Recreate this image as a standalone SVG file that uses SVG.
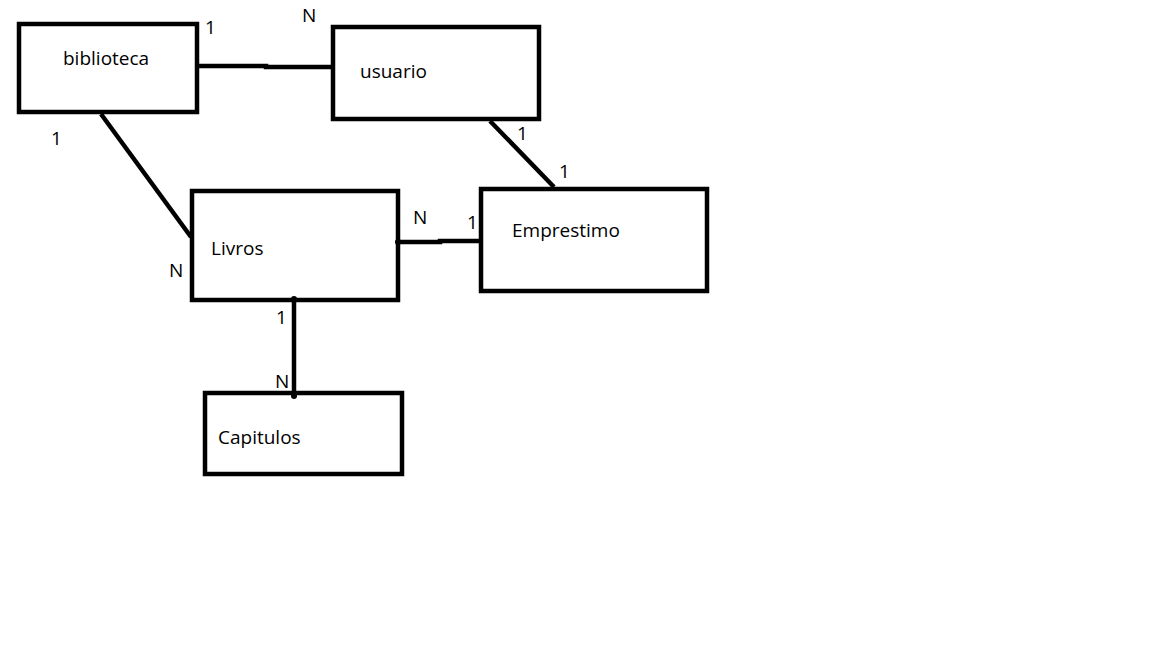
<svg xmlns="http://www.w3.org/2000/svg" width="1152" height="648" viewBox="0 0 1152 648">
<style>
.box{fill:#fff;stroke:#000;stroke-width:4.5}
.ln{fill:none;stroke:#000;stroke-width:4.5}
text{font-family:"Open Sans","Noto Sans",sans-serif;font-size:19px;fill:#000}
</style>
<rect width="1152" height="648" fill="#fff"/>
<g id="biblioteca"><rect class="box" x="19" y="24" width="178" height="88"/><text x="63" y="65">biblioteca</text></g>
<g id="usuario"><rect class="box" x="333" y="27" width="206" height="92"/><text x="360" y="78">usuario</text></g>
<g id="livros"><rect class="box" x="192" y="191" width="206" height="109"/><text x="211" y="255">Livros</text></g>
<g id="emprestimo"><rect class="box" x="481" y="189" width="226" height="102"/><text x="512" y="237">Emprestimo</text></g>
<g id="capitulos"><rect class="box" x="205" y="393" width="197" height="81"/><text x="218" y="444">Capitulos</text></g>
<g id="connectors">
<polyline class="ln" points="199,66 266,66 266,67 331,67"/>
<line class="ln" x1="101" y1="114" x2="191" y2="237"/>
<line class="ln" x1="490" y1="121" x2="554" y2="187"/>
<polyline class="ln" points="398,242 440,242 440,241 479,241"/>
<line class="ln" x1="294" y1="299" x2="294" y2="396"/>
<circle cx="398" cy="242" r="3"/>
<circle cx="294" cy="299" r="3"/>
<circle cx="294" cy="396" r="3"/>
</g>
<g id="labels">
<text x="205" y="34">1</text>
<text x="302" y="22">N</text>
<text x="51" y="145">1</text>
<text x="169" y="277">N</text>
<text x="517" y="140">1</text>
<text x="559" y="178">1</text>
<text x="413" y="224">N</text>
<text x="467" y="229">1</text>
<text x="276" y="324">1</text>
<text x="275" y="388">N</text>
</g>
</svg>
